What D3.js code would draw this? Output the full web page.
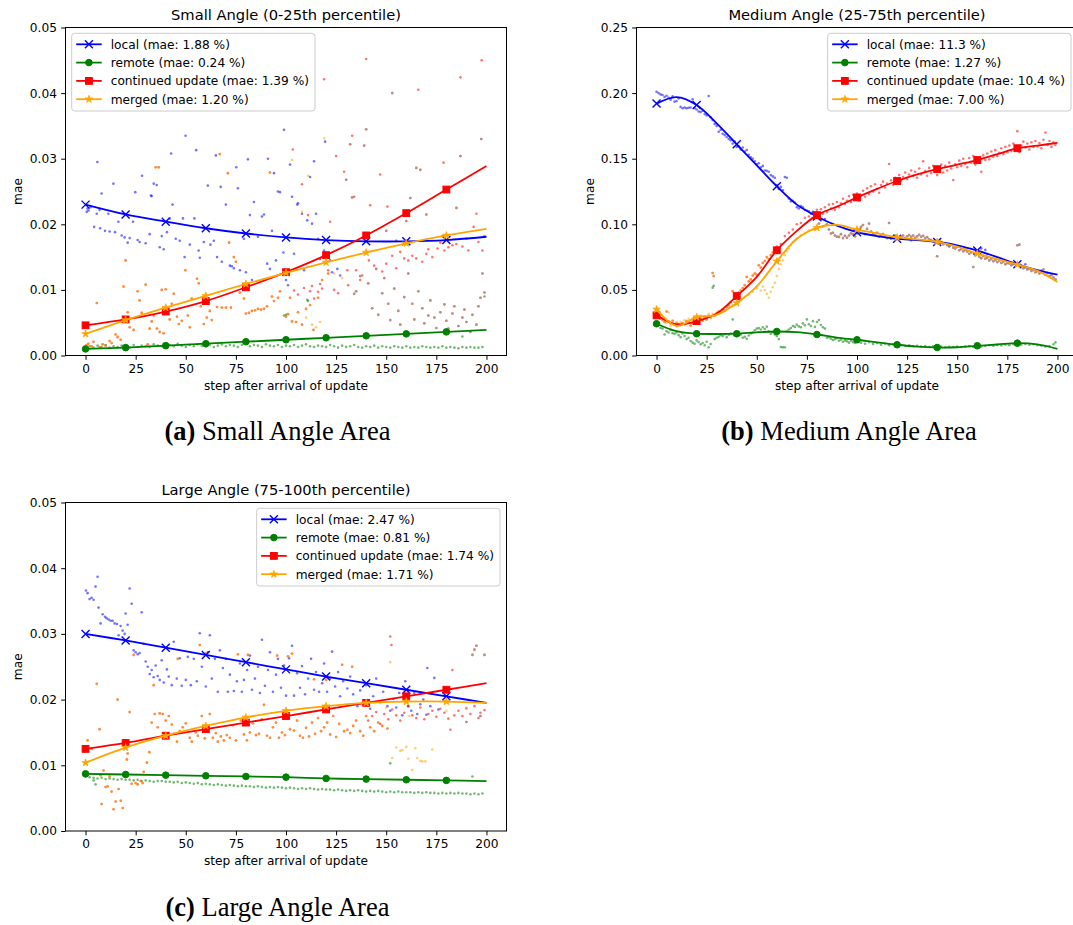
<!DOCTYPE html>
<html>
<head>
<meta charset="utf-8">
<script src="https://cdnjs.cloudflare.com/ajax/libs/d3/7.8.5/d3.min.js"></script>
<style>
body{margin:0;background:#fff}
svg text{font-family:"DejaVu Sans",sans-serif;fill:#000}
</style>
</head>
<body>
<svg id="fig" width="1073" height="925"></svg>
<script>
// ---- data ----
var seriesNames = ['local','remote','continued update','merged']
var seriesColors = ['blue','green','red','orange']
var seriesMarkers = ['x','o','s','*']
var titles = ['Small Angle (0-25th percentile)','Medium Angle (25-75th percentile)','Large Angle (75-100th percentile)']
var captions = [['(a)',' Small Angle Area'],['(b)',' Medium Angle Area'],['(c)',' Large Angle Area']]
var maeSmall = ['1.88','0.24','1.39','1.20']
var maeMedium = ['11.3','1.27','10.4','7.00']
var maeLarge = ['2.47','0.81','1.74','1.71']
var xTicks = [0,25,50,75,100,125,150,175,200]
var yTicksSmall = [0,0.01,0.02,0.03,0.04,0.05]
var yTicksMedium = [0,0.05,0.10,0.15,0.20,0.25]
var stepsCoarse = [0,20,40,60,80,100,120,140,160,180,200]
var stepsFine = [0,10,20,30,40,50,60,70,80,90,100,110,120,130,140,150,160,170,180,190,200]

// fitted lines, panel a (every 20 steps)
var aLocal = [0.0230,0.0215,0.0204,0.0194,0.0186,0.0180,0.0176,0.0174,0.0174,0.0176,0.0181]
var aRemote = [0.0010,0.0012,0.0015,0.0018,0.0021,0.0024,0.0027,0.0030,0.0033,0.0036,0.0039]
var aCont = [0.0046,0.0055,0.0067,0.0083,0.0104,0.0127,0.0153,0.0183,0.0217,0.0253,0.0289]
var aMerged = [0.0033,0.0054,0.0073,0.0091,0.0109,0.0126,0.0142,0.0157,0.0171,0.0183,0.0193]
// panel b (every 10 steps)
var bLocal = [0.192,0.197,0.191,0.177,0.161,0.145,0.129,0.115,0.106,0.099,0.094,0.091,0.089,0.088,0.0865,0.084,0.080,0.075,0.0695,0.065,0.0616]
var bRemote = [0.0242,0.0185,0.0166,0.0164,0.0166,0.0177,0.0183,0.0178,0.016,0.0137,0.012,0.010,0.0082,0.0068,0.0061,0.0063,0.0074,0.0084,0.0094,0.0085,0.0051]
var bCont = [0.0306,0.0238,0.0262,0.032,0.0453,0.060,0.0802,0.095,0.107,0.1135,0.1205,0.127,0.133,0.138,0.142,0.1455,0.149,0.1535,0.158,0.160,0.162]
var bMerged = [0.0351,0.0226,0.0293,0.031,0.040,0.0527,0.0718,0.089,0.0973,0.0995,0.096,0.093,0.090,0.0885,0.0866,0.083,0.0777,0.0735,0.0693,0.0645,0.056]
// panel c (every 20 steps)
var cLocal = [0.0300,0.0290,0.0279,0.0268,0.0257,0.0246,0.0235,0.0225,0.0215,0.0205,0.0195]
var cRemote = [0.0087,0.0086,0.0085,0.0084,0.0083,0.0082,0.0080,0.0079,0.0078,0.0077,0.0076]
var cCont = [0.0125,0.0134,0.0145,0.0155,0.0165,0.0175,0.0185,0.0195,0.0205,0.0215,0.0225]
var cMerged = [0.0104,0.0127,0.0145,0.0160,0.0173,0.0183,0.0190,0.0195,0.0197,0.0197,0.0195]

// raw per-step samples [step, mae]; "shared" = merged sample equal to local / continued
var aLocalDots = [[0.6,0.0219],[1,0.0224],[1.5,0.0221],[2.5,0.0226],[4.3,0.0196],[5.6,0.0216],[5.9,0.0295],[7,0.0222],[7.3,0.0194],[8,0.0247],[9.7,0.019],[11.4,0.0216],[12,0.0189],[13.9,0.0262],[14.7,0.0188],[16.4,0.0204],[18,0.0183],[19.5,0.018],[21,0.0172],[22,0.0179],[23.7,0.0204],[24.8,0.0249],[26,0.0176],[27,0.0173],[28.2,0.0274],[30,0.0171],[32,0.0185],[32.6,0.0244],[33,0.0243],[34,0.0262],[35.5,0.026],[37,0.0165],[38,0.0182],[39,0.0162],[40.6,0.0188],[42,0.0209],[42.7,0.0308],[43.4,0.023],[45,0.0178],[47,0.0175],[48.6,0.0209],[49.4,0.015],[49.9,0.0335],[52,0.0169],[54.3,0.0209],[55.2,0.0313],[56.4,0.016],[57,0.0149],[59,0.0173],[61,0.0259],[62.3,0.0169],[64,0.0175],[65,0.0305],[65.6,0.015],[67.4,0.0257],[68,0.0143],[70,0.023],[72,0.0137],[73,0.0136],[74,0.0133],[75.2,0.0287],[76,0.0255],[77,0.013],[79,0.0178],[80,0.0127],[81,0.0299],[82,0.0214],[83,0.0115],[84,0.0234],[86,0.0181],[88,0.0212],[89,0.0215],[90.6,0.014],[91,0.030],[92,0.0132],[93,0.019],[94,0.0278],[95,0.0145],[96,0.025],[97,0.0249],[98.7,0.0157],[99,0.0344],[100,0.0115],[101,0.0107],[102,0.0291],[103,0.0242],[104,0.0155],[105.6,0.023],[106,0.0232],[108,0.0216],[109,0.013],[110.6,0.0206],[112,0.0272],[113,0.0201],[114,0.0296],[115,0.0216],[116,0.0178],[117,0.0147],[119,0.016],[119.5,0.0326],[121,0.015],[122,0.0145],[123,0.0127],[125.6,0.0132],[127,0.0122]]
var aRemoteDots = [0.0013,0.0014,0.0012,0.0015,0.0013,0.0016,0.0012,0.0014,0.0013,0.0015,0.0014,0.0012,0.0016,0.0013,0.0015,0.0014,0.0013,0.0017,0.0015,0.0014,0.0013,0.0016,0.0014,0.0018,0.0015,0.0013,0.0016,0.0014,0.0017,0.0015,0.0014,0.0016,0.0013,0.0015,0.0017,0.0014,0.0016,0.0015,0.0013,0.0016,0.0019,0.0014,0.0016,0.0015,0.0013,0.0017,0.0015,0.0014,0.0016,0.0013,0.0015,0.0014,0.0016,0.0013,0.0015,0.0017,0.0014,0.0013,0.0015,0.0014,0.0013,0.0016,0.0014,0.0012,0.0015,0.0013,0.0014,0.0016,0.0013,0.0012,0.0014,0.0013,0.0015,0.0012,0.0014,0.0013,0.0012,0.0014,0.0013,0.0012,0.0014,0.0012,0.0013,0.0012,0.0014,0.0013,0.0012,0.0013,0.0012,0.0014,0.0012,0.0013,0.0012,0.0011,0.0013,0.0012,0.0013,0.0012,0.0012,0.0013]
var aRemoteExtra = [[99,0.0061],[100,0.0062],[110.6,0.0085],[111,0.0083],[188,0.0029],[199,0.009]]
var aContDots = [[103.4,0.0314],[104,0.0099],[106,0.0093],[108,0.0261],[109,0.0103],[111,0.0214],[112,0.0098],[113,0.0106],[114,0.0087],[116,0.0097],[117,0.0109],[118,0.0102],[119,0.0421],[121,0.013],[122,0.0204],[124,0.0100],[125,0.0304],[126,0.0095],[129,0.028],[130.6,0.013],[131,0.0107],[133,0.0335],[134,0.0242],[135,0.013],[137,0.0115],[138,0.0122],[140,0.0452],[141.4,0.0145],[142,0.0229],[144,0.0137],[147,0.0276],[148,0.0128],[150,0.014],[150.6,0.0227],[153,0.0152],[155,0.0133],[157,0.0158],[159,0.0148],[161,0.0145],[163,0.0152],[165,0.0148],[166,0.0405],[168,0.0143],[170,0.0155],[171,0.0162],[173,0.0150],[175.6,0.0163],[177,0.0172],[178.6,0.0294],[179,0.0160],[181,0.0165],[183,0.0168],[185,0.0170],[187,0.0424],[188,0.0166],[190,0.0178],[191,0.0160],[193.6,0.0196],[195,0.0216],[196,0.0173],[197.6,0.045],[198,0.016],[199,0.0182]]
var aMergedDots = [[103,0.0298],[108,0.0219],[110,0.0058],[111,0.0274],[113,0.0047],[115,0.0043],[117,0.0051],[119,0.0331],[120,0.0148],[124,0.0125],[128,0.0118]]
var aSharedContDots = [[0.5,0.0016],[1.4,0.0018],[3,0.0014],[4,0.0021],[5.6,0.008],[7,0.0013],[8.5,0.0017],[10,0.0015],[12,0.0022],[13,0.0019],[15,0.0032],[16,0.0028],[17.5,0.0024],[19,0.0105],[20,0.0145],[21,0.0066],[22,0.0043],[24,0.0039],[26,0.0098],[27,0.0084],[28,0.0065],[30,0.0108],[31,0.0017],[32,0.0041],[33,0.0052],[34,0.0061],[35,0.0287],[35.6,0.0041],[36.5,0.0287],[37,0.0036],[38,0.0100],[39,0.0034],[40,0.0101],[42,0.0055],[43,0.0079],[44,0.0094],[45.6,0.0059],[46.5,0.0048],[48,0.0053],[49.8,0.013],[51,0.0061],[52,0.0043],[53,0.0087],[55.6,0.0117],[56.5,0.0110],[57.5,0.0075],[59,0.0048],[60.5,0.0058],[62,0.0068],[63,0.0054],[65.6,0.0074],[67,0.0307],[68,0.0073],[70,0.0073],[71,0.0278],[71.6,0.0172],[72.5,0.0073],[74,0.0150],[75,0.0143],[77,0.0096],[79,0.0087],[80,0.0064],[81.5,0.0065],[83,0.0068],[84.5,0.0069],[86,0.0071],[87.5,0.0070],[89,0.0071],[90.5,0.0075],[92,0.0279],[93,0.0090],[94,0.0083],[96,0.0088],[97,0.0098],[100,0.0059],[101,0.0063],[102,0.0088],[103,0.0052],[105,0.0051],[106,0.0066],[108,0.0047],[110,0.0071],[112,0.0077],[113.7,0.0039],[116,0.0088],[118,0.0115],[121,0.0125]]
var aSharedLocalDots = [[130,0.0268],[132,0.0322],[133,0.0241],[134,0.0094],[135,0.0098],[137,0.0121],[139,0.032],[140,0.0345],[141,0.0110],[143,0.0072],[145,0.0132],[146,0.0062],[148,0.0095],[149,0.0118],[150,0.0190],[151,0.0079],[152,0.0054],[153,0.040],[154,0.0102],[155,0.0175],[156,0.0068],[157,0.0047],[159,0.0089],[160,0.0205],[161,0.0125],[162,0.024],[163,0.0079],[164,0.0055],[165,0.0286],[166,0.0098],[167,0.0283],[168,0.0072],[169,0.0049],[170,0.0215],[171,0.0061],[172,0.0084],[174,0.0058],[175,0.0042],[177,0.0066],[178,0.0182],[179,0.0078],[180,0.0053],[181,0.0041],[183,0.0064],[184,0.0075],[185,0.0225],[186,0.0045],[187,0.0304],[188,0.0058],[189,0.0070],[190,0.0051],[192,0.0036],[193,0.0062],[195,0.0047],[196,0.0075],[197,0.0088],[197.4,0.033],[198,0.0125],[199,0.0096]]

var bLocalDots = [[0,0.201],[1,0.2],[2,0.199],[3,0.1985],[4,0.197],[5,0.198],[6,0.1965],[7,0.195],[8,0.1975],[9,0.1935],[10,0.194],[11,0.196],[12,0.1895],[13,0.1884],[14,0.189],[15,0.1885],[16,0.1888],[17,0.189],[18,0.1953],[19,0.1885],[20,0.1875],[21,0.186],[22,0.1855],[23,0.1866],[24,0.184],[25,0.183],[26,0.1978],[27,0.1815],[28,0.1795],[29,0.1764],[30,0.175],[31,0.1705],[32,0.172],[33,0.169],[34,0.168],[35,0.1665],[36,0.165],[37,0.164],[38,0.1615],[39,0.163],[40,0.159],[41,0.1595],[42,0.157],[43,0.1585],[44,0.1555],[45,0.1566],[46,0.153],[47,0.151],[48,0.15],[49,0.148],[50,0.1457],[51,0.1465],[52,0.1435],[53,0.1445],[54,0.141],[55,0.1408],[56,0.14],[57,0.1375],[58,0.1365],[59,0.1354],[60,0.13],[61,0.127],[62,0.1285],[63,0.126],[64,0.136],[65,0.1355],[66,0.1197],[67,0.1175],[68,0.118],[69,0.1165],[70,0.113],[71,0.112],[72,0.114],[73,0.113],[74,0.111],[75,0.1105],[76,0.11],[77,0.108],[78,0.1095],[79,0.106],[80,0.105],[82,0.103],[84,0.104],[100,0.093],[104,0.0925],[121,0.088],[127,0.0878],[140.5,0.0853],[146,0.0835],[162,0.0815],[164,0.0805],[184,0.0695]]
var bRemoteDots = [[0,0.024],[1,0.0235],[2,0.021],[3,0.0205],[4,0.016],[5,0.0185],[6,0.0175],[7,0.0195],[8,0.017],[9,0.0165],[10,0.0175],[11,0.0155],[12,0.014],[13,0.0168],[14,0.0148],[15,0.0125],[16,0.0135],[17,0.011],[18,0.0098],[19,0.0089],[20,0.0115],[21,0.0102],[22,0.0085],[23,0.0095],[24,0.0078],[25,0.0105],[26,0.0063],[27,0.0088],[28,0.0517],[28.5,0.0532],[29,0.0125],[30,0.0135],[31,0.0142],[32,0.0155],[33,0.0148],[34,0.0162],[35,0.014],[36,0.0158],[37,0.0168],[38,0.0275],[39,0.0152],[40,0.0148],[41,0.0165],[42,0.0158],[43,0.0135],[44,0.0142],[45,0.0128],[46,0.0152],[47,0.0168],[48,0.0175],[49,0.0192],[50,0.0205],[51,0.021],[52,0.0198],[53,0.0215],[54,0.0202],[55,0.022],[56,0.0185],[57,0.0165],[58,0.0178],[59,0.016],[60,0.0148],[61,0.0125],[62,0.0065],[63,0.0062],[64,0.0063],[65,0.0185],[66,0.0198],[67,0.021],[68,0.0225],[69,0.0218],[70,0.0235],[71,0.0222],[72,0.0215],[73,0.0245],[74,0.023],[75,0.0275],[76,0.0238],[77,0.0225],[78,0.0262],[79,0.0218],[80,0.0255],[81,0.027],[82,0.0232],[83,0.0215],[84,0.0205],[85,0.0135],[86,0.014],[87,0.0128],[88,0.0118],[89,0.0125],[90,0.0132],[91,0.0112],[92,0.012],[93,0.0105],[94,0.0115],[95,0.0108],[96,0.0098],[97,0.0112],[98,0.0102],[99,0.0095],[100,0.0105],[102,0.0098],[104,0.009],[106,0.0102],[108,0.0088],[110,0.0095],[112,0.0082],[114,0.0092],[116,0.0078],[118,0.0085],[120,0.0075],[122,0.008],[124,0.0072],[126,0.0078],[128,0.007],[130,0.0074],[132,0.0068],[134,0.0072],[136,0.0065],[138,0.007],[140,0.0066],[142,0.0068],[144,0.0063],[146,0.0067],[148,0.0065],[150,0.0069],[152,0.0064],[154,0.0068],[156,0.0072],[158,0.0066],[160,0.0074],[162,0.0069],[164,0.0072],[166,0.0078],[168,0.0074],[170,0.0081],[172,0.0076],[174,0.0083],[176,0.0079],[178,0.0086],[180,0.009],[182,0.0084],[184,0.0088],[186,0.0082],[188,0.0086],[190,0.0078],[192,0.0074],[194,0.0068],[196,0.0072],[198,0.0085],[199,0.01]]
var bContDots = [[60,0.083],[62,0.085],[64,0.091],[66,0.0935],[68,0.096],[70,0.1],[72,0.101],[74,0.105],[76,0.106],[78,0.109],[80,0.111],[81,0.104],[82,0.1115],[83,0.108],[84,0.113],[85,0.1095],[86,0.115],[87,0.112],[88,0.1155],[89,0.111],[90,0.117],[91,0.113],[92,0.116],[93,0.1195],[94,0.1155],[95,0.118],[96,0.1215],[97,0.117],[98,0.1225],[99,0.119],[100,0.1235],[101,0.118],[102,0.122],[103,0.1255],[104,0.121],[105,0.1275],[106,0.123],[107,0.129],[108,0.125],[109,0.1305],[110,0.127],[111,0.124],[112,0.13],[113,0.1325],[114,0.128],[115,0.131],[116,0.146],[117,0.1335],[118,0.13],[119,0.1355],[120,0.132],[121,0.1375],[122,0.133],[123,0.136],[124,0.1395],[125,0.1345],[126,0.138],[127,0.141],[128,0.137],[129,0.14],[130,0.1355],[131,0.1425],[132,0.138],[133,0.148],[134,0.1405],[135,0.137],[136,0.143],[137,0.139],[138,0.1445],[139,0.1405],[140,0.1375],[141,0.143],[142,0.1455],[143,0.1395],[144,0.1445],[145,0.141],[146,0.147],[147,0.1425],[148,0.1337],[149,0.146],[150,0.1435],[151,0.1485],[152,0.1445],[153,0.15],[154,0.146],[155,0.1435],[156,0.1505],[157,0.147],[158,0.152],[159,0.1455],[160,0.1505],[161,0.148],[162,0.14],[163,0.1525],[164,0.149],[165,0.154],[166,0.1495],[167,0.1555],[168,0.1515],[169,0.1565],[170,0.152],[171,0.1545],[172,0.158],[173,0.1535],[174,0.159],[175,0.155],[176,0.16],[177,0.156],[178,0.1615],[179,0.1575],[180,0.171],[181,0.155],[182,0.16],[183,0.163],[184,0.1585],[185,0.1615],[186,0.157],[187,0.1625],[188,0.159],[189,0.1635],[190,0.1595],[191,0.162],[192,0.158],[193,0.1645],[194,0.170],[195,0.1605],[196,0.1635],[197,0.159],[198,0.1625],[199,0.1605]]
var bMergedDots = [[0,0.036],[1,0.034],[2,0.031],[3,0.029],[4,0.027],[5,0.025],[6,0.033],[7,0.0225],[8,0.024],[9,0.0235],[10,0.0222],[12,0.0255],[14,0.0268],[16,0.028],[18,0.0275],[20,0.0292],[22,0.0305],[24,0.0298],[26,0.0315],[28,0.0318],[30,0.0325],[32,0.0335],[34,0.0345],[36,0.037],[38,0.0385],[40,0.0395],[42,0.042],[44,0.0445],[46,0.0465],[48,0.0485],[50,0.051],[52,0.0495],[53,0.0525],[54,0.0497],[55,0.047],[56,0.044],[57,0.0485],[58,0.052],[59,0.0555],[60,0.0605],[61,0.066],[62,0.0695],[63,0.0725],[64,0.0765],[65,0.0795],[66,0.0815],[67,0.084],[68,0.0865],[69,0.0875],[70,0.089],[72,0.0915],[74,0.093],[76,0.0955],[78,0.096],[80,0.0975],[82,0.098],[84,0.0995]]
var bSharedContDots = [[0,0.031],[1,0.0295],[2,0.028],[3,0.027],[4,0.0255],[5,0.0335],[6,0.026],[7,0.0245],[8,0.0265],[9,0.0235],[10,0.025],[11,0.024],[12,0.0232],[13,0.0248],[14,0.0238],[15,0.0262],[16,0.0255],[17,0.0228],[18,0.0245],[19,0.0255],[20,0.027],[21,0.0258],[22,0.028],[23,0.0265],[24,0.0285],[25,0.0275],[26,0.03],[27,0.029],[28,0.0629],[28.5,0.0605],[29,0.0305],[30,0.032],[31,0.0335],[32,0.0325],[33,0.035],[34,0.0345],[35,0.037],[36,0.0385],[37,0.0405],[38,0.049],[39,0.044],[40,0.0465],[41,0.048],[42,0.0495],[43,0.0515],[44,0.0535],[45,0.0598],[46,0.0565],[47,0.058],[48,0.061],[49,0.0625],[50,0.0615],[51,0.0688],[52,0.067],[53,0.0705],[54,0.072],[55,0.075],[56,0.0735],[57,0.0765],[58,0.0785],[59,0.081],[60,0.079]]
var bSharedLocalDots = [[81,0.1006],[83,0.0985],[85,0.1],[86,0.096],[87,0.093],[88,0.0935],[89,0.0915],[90,0.0905],[91,0.0904],[92,0.0925],[93,0.0895],[94,0.0912],[95,0.0898],[96,0.0915],[97,0.0932],[98,0.0925],[99,0.0908],[101,0.0955],[102,0.098],[103,0.0995],[105,0.0965],[106,0.1005],[107,0.0945],[108,0.0925],[109,0.092],[110,0.0935],[111,0.0905],[112,0.0918],[113,0.0925],[114,0.0905],[115,0.0895],[116,0.101],[117,0.089],[118,0.0905],[119,0.0915],[120,0.0895],[122,0.0902],[123,0.0915],[124,0.0895],[125,0.0908],[126,0.0918],[127,0.0905],[128,0.0915],[129,0.0898],[130,0.0908],[131,0.092],[132,0.0905],[133,0.0912],[134,0.0895],[135,0.0902],[136,0.0885],[137,0.088],[138,0.087],[139,0.0868],[140,0.0756],[141,0.0855],[142,0.0865],[143,0.0848],[144,0.0858],[145,0.0842],[146,0.0832],[147,0.0845],[148,0.0822],[149,0.0815],[150,0.0828],[151,0.0802],[152,0.0812],[153,0.0795],[154,0.0805],[155,0.0792],[156,0.0775],[157,0.0785],[158,0.0675],[159,0.0765],[160,0.0778],[161,0.0752],[162,0.0742],[163,0.0758],[164,0.0738],[165,0.0745],[166,0.0725],[167,0.0735],[168,0.0718],[169,0.0728],[170,0.0712],[171,0.0725],[172,0.0705],[173,0.0715],[174,0.0695],[175,0.0705],[176,0.0702],[177,0.0688],[178,0.0695],[179,0.0705],[180,0.084],[181,0.0845],[182,0.0685],[183,0.0665],[184,0.0672],[185,0.0655],[186,0.0662],[187,0.0645],[188,0.0652],[189,0.0635],[190,0.0642],[191,0.0625],[192,0.0648],[193,0.0655],[194,0.0615],[195,0.0628],[196,0.0605],[197,0.0612],[198,0.0595],[199,0.058]]

var cLocalDots = [[0.2,0.0366],[1,0.0362],[2,0.0353],[3,0.0355],[4,0.0352],[5,0.0372],[6,0.0387],[6.5,0.034],[7.5,0.0316],[8.5,0.033],[9.7,0.0326],[10.5,0.0324],[11.5,0.0322],[12.5,0.032],[13.5,0.032],[14.5,0.0316],[15.7,0.0315],[16.5,0.0298],[17.5,0.0312],[18.5,0.0305],[19.5,0.030],[20,0.0331],[21,0.0314],[22,0.0369],[23,0.0346],[24,0.0275],[25,0.0272],[26,0.0269],[27,0.0271],[28,0.0333],[29,0.0285],[30,0.0258],[31,0.0250],[32,0.0239],[33,0.0245],[34,0.0234],[35,0.0252],[36,0.0236],[37,0.0230],[38,0.0260],[39,0.0226],[40.6,0.0246],[41.5,0.0235],[43,0.0222],[44,0.0288],[45.5,0.0232],[47,0.0263],[48,0.0221],[50,0.0230],[51,0.0265],[52.5,0.0222],[54,0.0262],[55.5,0.0228],[57,0.0301],[58,0.0250],[60,0.0220],[61,0.0272],[62,0.0298],[63,0.0232],[64.5,0.0262],[66,0.0212],[67,0.0275],[68.5,0.0248],[70,0.0262],[71,0.0212],[72,0.0238],[74,0.0213],[75.5,0.0228],[77,0.0255],[78,0.0212],[79,0.0230],[80.6,0.0245],[82,0.0267],[83,0.0215],[84.5,0.0232],[86,0.0250],[87,0.0210],[88,0.0291],[89.5,0.0221],[91,0.0245],[92,0.0272],[93.5,0.0212],[95,0.0238],[96,0.0262],[97.5,0.0218],[99,0.0252],[100,0.0206],[101.5,0.0263],[103,0.0282],[104,0.0206],[105.5,0.0240],[107,0.0218],[108,0.0251],[109.5,0.0208],[111,0.0232],[112.5,0.0262],[114,0.0215],[115,0.0242],[116.5,0.0212],[118,0.0225],[119,0.0255],[120.5,0.0212],[122,0.0232],[123,0.0273],[124.5,0.0220],[126,0.0242],[127,0.0205],[128.5,0.0228],[130.6,0.0217],[132,0.0235],[133.5,0.0208],[135.6,0.019],[137,0.0214],[138.5,0.0195],[140,0.0222],[142,0.0186],[143.5,0.0205],[145,0.0232],[147,0.0196],[148.5,0.0212],[150.6,0.019],[152,0.0183],[153.5,0.0201],[155,0.0188],[156.5,0.0210],[158,0.0176],[159.5,0.0228],[161,0.0190],[162.5,0.0183],[164,0.0210],[165.5,0.0178],[167,0.0193],[168.5,0.0200],[170,0.0177],[170.5,0.0248],[172,0.0190],[174,0.0233],[176,0.0185]]
var cRemoteDots = [0.0083,0.0082,0.0081,0.0080,0.0081,0.0079,0.0080,0.0079,0.0078,0.0079,0.0078,0.0078,0.0077,0.0078,0.0076,0.0077,0.0076,0.0075,0.0076,0.0076,0.0075,0.0075,0.0074,0.0075,0.0073,0.0074,0.0073,0.0072,0.0073,0.0071,0.0072,0.0071,0.0070,0.0071,0.0070,0.0069,0.0070,0.0069,0.0068,0.0069,0.0068,0.0068,0.0067,0.0068,0.0067,0.0066,0.0067,0.0066,0.0067,0.0066,0.0065,0.0066,0.0065,0.0064,0.0065,0.0064,0.0065,0.0064,0.0063,0.0064,0.0063,0.0063,0.0062,0.0063,0.0062,0.0061,0.0062,0.0061,0.0062,0.0061,0.0060,0.0061,0.0060,0.0061,0.0060,0.0059,0.0060,0.0059,0.0060,0.0059,0.0059,0.0059,0.0058,0.0059,0.0058,0.0059,0.0058,0.0058,0.0057,0.0058,0.0057,0.0058,0.0057,0.0058,0.0057,0.0057,0.0056,0.0057,0.0056,0.0057]
var cRemoteExtra = [[4,0.0077],[5,0.0071],[152,0.0103],[193,0.0083]]
var cContDots = [[141,0.0168],[143,0.0175],[145,0.0181],[147,0.0163],[149,0.0178],[151,0.0170],[152,0.0296],[152.6,0.0283],[153,0.0185],[155,0.0176],[157,0.0168],[159,0.0180],[161,0.0190],[163,0.0176],[165,0.0172],[167,0.0188],[169,0.0170],[171,0.0178],[173,0.0183],[175,0.0174],[177,0.0186],[179,0.0180],[181,0.0171],[182,0.0154],[183,0.0245],[184,0.0176],[186,0.0183],[188,0.0175],[190,0.0187],[192,0.0178],[194,0.0190],[196,0.0172],[197,0.0180],[199,0.0184]]
var cMergedDots = [[150,0.0188],[152,0.0257],[153,0.0111],[155,0.0127],[157,0.0122],[158,0.0123],[160,0.0128],[161,0.0110],[161.5,0.0175],[163,0.0093],[164.5,0.0126],[165.5,0.0111],[167,0.0107],[168,0.0106],[169.5,0.0106],[173,0.0124],[180,0.0183],[190,0.0186]]
var cSharedContDots = [[1,0.0138],[3,0.0125],[5.6,0.0224],[7,0.0155],[7.5,0.0085],[8,0.0041],[9,0.0092],[10,0.0067],[11,0.0068],[12,0.0083],[13,0.0060],[14,0.0033],[15,0.0045],[16,0.0200],[16.5,0.0064],[17.6,0.0046],[18.6,0.0035],[20.6,0.0109],[21,0.0118],[22,0.0181],[23,0.0072],[24,0.0268],[25,0.0073],[26,0.0071],[27.5,0.0076],[28.5,0.0073],[29,0.0090],[30.6,0.0104],[31.8,0.0120],[33,0.0165],[34,0.0222],[34.5,0.0178],[36,0.0158],[37,0.0179],[38.5,0.0178],[40,0.0168],[41.5,0.0175],[43,0.0162],[44,0.0148],[45.6,0.0136],[46,0.0262],[47,0.0152],[48.5,0.0158],[50,0.0164],[52,0.0142],[53,0.0136],[55,0.0150],[56,0.0145],[57,0.0283],[58,0.0175],[59.5,0.0141],[60,0.0270],[61,0.0153],[62,0.0178],[63.5,0.0142],[65,0.0149],[66,0.0136],[67.5,0.0144],[69,0.0138],[70.5,0.0146],[72,0.0142],[73.5,0.0161],[75,0.0138],[76,0.0269],[77.5,0.0168],[79,0.0147],[80.5,0.0138],[81,0.0268],[82,0.0150],[83.5,0.0164],[85,0.0146],[86.5,0.0148],[88,0.0170],[89,0.0192],[90.5,0.0145],[92,0.0142],[93.5,0.0158],[95,0.0165],[95.6,0.0267],[96.5,0.0142],[98,0.0150],[99.5,0.0146],[101,0.0266],[102,0.0155],[103,0.0270],[104,0.0153],[105.5,0.0168],[107,0.0145],[108.5,0.0142],[110,0.0157],[111.5,0.0144],[113,0.0165],[114,0.0231],[114.5,0.0148],[116,0.0172],[117.5,0.0152],[119,0.0158],[120,0.0230],[120.5,0.0165],[122,0.0147],[123.5,0.0175],[125,0.0143],[126.5,0.0163],[128,0.0253],[129,0.0152],[130.6,0.0154],[132,0.0149],[133,0.0250],[133.5,0.0160],[135,0.0168],[137,0.0152],[138.5,0.0145],[140,0.0175],[142,0.0158],[144,0.0152],[146,0.0165],[148,0.0160],[150.6,0.0156]]
var cSharedLocalDots = [[190,0.0166],[193,0.0268],[194,0.0276],[195,0.0282],[197,0.0175],[199,0.0268]]

// ---- layout ----
var layout = [
  {left:65.5, top:27.5, width:441, height:328, ymax:0.05, legend:'left', yLabelX:22, capX:277.5, capY:440},
  {left:636.5, top:27.5, width:441, height:328, ymax:0.25, legend:'right', yLabelX:594, capX:849, capY:440},
  {left:65.5, top:502.5, width:441, height:328.5, ymax:0.05, legend:'right', yLabelX:22, capX:277.5, capY:916}
]

function every2(vals){ return vals.map(function(v,i){ return [i*2,v] }) }

var panels = [
  {title:titles[0], caption:captions[0], mae:maeSmall, yTicks:yTicksSmall, steps:stepsCoarse, markEvery:1,
   lines:[aLocal,aRemote,aCont,aMerged],
   dots:{local:aLocalDots, remote:every2(aRemoteDots).concat(aRemoteExtra), cont:aContDots, merged:aMergedDots, sharedLocal:aSharedLocalDots, sharedCont:aSharedContDots}},
  {title:titles[1], caption:captions[1], mae:maeMedium, yTicks:yTicksMedium, steps:stepsFine, markEvery:2,
   lines:[bLocal,bRemote,bCont,bMerged],
   dots:{local:bLocalDots, remote:bRemoteDots, cont:bContDots, merged:bMergedDots, sharedLocal:bSharedLocalDots, sharedCont:bSharedContDots}},
  {title:titles[2], caption:captions[2], mae:maeLarge, yTicks:yTicksSmall, steps:stepsCoarse, markEvery:1,
   lines:[cLocal,cRemote,cCont,cMerged],
   dots:{local:cLocalDots, remote:every2(cRemoteDots).concat(cRemoteExtra), cont:cContDots, merged:cMergedDots, sharedLocal:cSharedLocalDots, sharedCont:cSharedContDots}}
]

var FS = '12.2px'
var svg = d3.select('#fig')
svg.append('rect').attr('width',1073).attr('height',925).attr('fill','#fff')

function marker(g, kind, cx, cy, color) {
  if (kind=='x') {
    var h = 4
    g.append('path')
      .attr('d','M'+(cx-h)+','+(cy-h)+'L'+(cx+h)+','+(cy+h)+'M'+(cx-h)+','+(cy+h)+'L'+(cx+h)+','+(cy-h))
      .attr('stroke',color).attr('stroke-width',1.4).attr('fill','none')
  } else if (kind=='o') {
    g.append('circle').attr('cx',cx).attr('cy',cy).attr('r',3.3)
      .attr('fill',color).attr('stroke',color).attr('stroke-width',1)
  } else if (kind=='s') {
    g.append('rect').attr('x',cx-3.4).attr('y',cy-3.4).attr('width',6.8).attr('height',6.8)
      .attr('fill',color).attr('stroke',color).attr('stroke-width',1)
  } else {
    g.append('path').attr('d',d3.symbol(d3.symbolStar,17)())
      .attr('transform','translate('+cx+','+cy+')')
      .attr('fill',color).attr('stroke',color).attr('stroke-width',0.8)
  }
}

function drawPanel(p, L, i) {
  var x = d3.scaleLinear().domain([-10,210]).range([L.left, L.left+L.width])
  var y = d3.scaleLinear().domain([0,L.ymax]).range([L.top+L.height, L.top])
  var g = svg.append('g')

  g.append('clipPath').attr('id','clip'+i).append('rect')
    .attr('x',L.left).attr('y',L.top).attr('width',L.width).attr('height',L.height)
  var plot = g.append('g').attr('clip-path','url(#clip'+i+')')

  // scatter of raw samples
  var d = p.dots
  var dotSets = [
    {pts:d.local.concat(d.sharedLocal), color:'blue'},
    {pts:d.remote, color:'green'},
    {pts:d.cont.concat(d.sharedCont), color:'red'},
    {pts:d.merged.concat(d.sharedLocal, d.sharedCont), color:'orange'}
  ]
  dotSets.forEach(function(s){
    plot.append('g').selectAll('circle').data(s.pts).enter().append('circle')
      .attr('cx',function(v){ return x(v[0]) })
      .attr('cy',function(v){ return y(v[1]) })
      .attr('r',1.3)
      .attr('fill',s.color)
      .attr('fill-opacity',0.55)
  })

  // fitted lines with markers
  var line = d3.line()
    .x(function(v){ return x(v[0]) })
    .y(function(v){ return y(v[1]) })
    .curve(d3.curveCatmullRom.alpha(0.5))
  p.lines.forEach(function(vals,k){
    var pts = p.steps.map(function(s,j){ return [s,vals[j]] })
    plot.append('path').datum(pts).attr('d',line)
      .attr('fill','none').attr('stroke',seriesColors[k]).attr('stroke-width',1.8)
    var mg = plot.append('g')
    pts.forEach(function(pt,j){
      if (j%p.markEvery==0 && pt[0]<200) marker(mg, seriesMarkers[k], x(pt[0]), y(pt[1]), seriesColors[k])
    })
  })

  // frame
  g.append('rect').attr('x',L.left).attr('y',L.top).attr('width',L.width).attr('height',L.height)
    .attr('fill','none').attr('stroke','#000').attr('stroke-width',1)

  // axes
  var gx = g.append('g').attr('transform','translate(0,'+(L.top+L.height)+')')
    .call(d3.axisBottom(x).tickValues(xTicks).tickSize(4.3).tickPadding(4.3).tickFormat(d3.format('d')))
  var gy = g.append('g').attr('transform','translate('+L.left+',0)')
    .call(d3.axisLeft(y).tickValues(p.yTicks).tickSize(4.3).tickPadding(4.3).tickFormat(d3.format('.2f')))
  ;[gx,gy].forEach(function(a){
    a.select('.domain').remove()
    a.selectAll('line').attr('stroke','#000').attr('stroke-width',1)
    a.selectAll('text').style('font-size',FS).style('font-family','"DejaVu Sans"').attr('fill','#000')
  })

  // labels
  var cx = L.left + L.width/2
  g.append('text').attr('x',cx).attr('y',L.top-7.8).attr('text-anchor','middle')
    .style('font-size','14.7px').text(p.title)
  g.append('text').attr('x',cx).attr('y',L.top+L.height+34).attr('text-anchor','middle')
    .style('font-size',FS).text('step after arrival of update')
  g.append('text').attr('transform','translate('+L.yLabelX+','+(L.top+L.height/2)+') rotate(-90)')
    .attr('text-anchor','middle').style('font-size',FS).text('mae')

  // legend
  var lg = g.append('g')
  var box = lg.append('rect')
  var rows = seriesNames.map(function(n,k){ return n+' (mae: '+p.mae[k]+' %)' })
  var maxW = 0
  rows.forEach(function(r,k){
    var t = lg.append('text').attr('x',39).attr('y',11+k*18.3).attr('dy','0.36em')
      .style('font-size',FS).text(r)
    maxW = Math.max(maxW, t.node().getComputedTextLength())
    lg.append('line').attr('x1',4.5).attr('x2',30).attr('y1',11+k*18.3).attr('y2',11+k*18.3)
      .attr('stroke',seriesColors[k]).attr('stroke-width',1.8)
    marker(lg, seriesMarkers[k], 17.2, 11+k*18.3, seriesColors[k])
  })
  var bw = 39 + maxW + 6, bh = 77.7
  box.attr('width',bw).attr('height',bh).attr('rx',3)
    .attr('fill','#fff').attr('fill-opacity',0.8).attr('stroke','#cccccc').attr('stroke-width',1)
  var lx = L.legend=='left' ? L.left+6.2 : L.left+L.width-6.5-bw
  lg.attr('transform','translate('+lx+','+(L.top+5.8)+')')

  // caption
  var cap = svg.append('text').attr('x',L.capX).attr('y',L.capY).attr('text-anchor','middle')
    .style('font-family','"Liberation Serif","Times New Roman",serif').style('font-size','26.5px')
  cap.append('tspan').style('font-weight','bold').text(p.caption[0])
  cap.append('tspan').text(p.caption[1])
}

panels.forEach(function(p,i){ drawPanel(p, layout[i], i) })
</script>
</body>
</html>
